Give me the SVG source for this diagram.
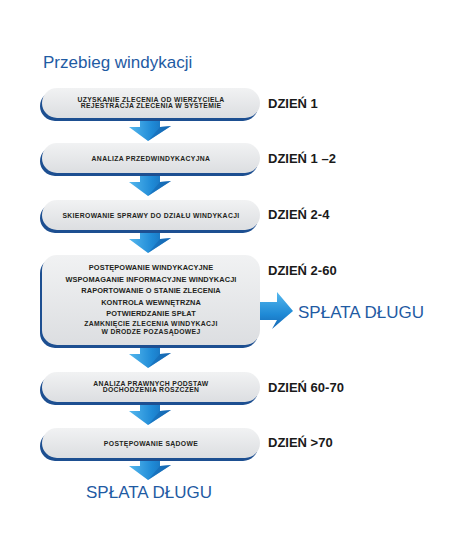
<svg xmlns="http://www.w3.org/2000/svg" width="474" height="553" viewBox="0 0 474 553">
<defs>
<linearGradient id="gBox" x1="0" y1="0" x2="0" y2="1">
<stop offset="0" stop-color="#f1f2f3"/>
<stop offset="1" stop-color="#dcdee1"/>
</linearGradient>
<linearGradient id="gArrow" x1="0" y1="0" x2="1" y2="0">
<stop offset="0" stop-color="#55b8ee"/>
<stop offset="0.55" stop-color="#1f8ad6"/>
<stop offset="1" stop-color="#1566b2"/>
</linearGradient>
<linearGradient id="gArrowR" x1="0" y1="0" x2="0" y2="1">
<stop offset="0" stop-color="#55b8ee"/>
<stop offset="0.6" stop-color="#1f8ad6"/>
<stop offset="1" stop-color="#1566b2"/>
</linearGradient>
<g id="downArrow">
<path d="M-10,0 L10,0 L10,6 L21,5 L-2,20 L-21,6 L-10,6 Z" fill="url(#gArrow)"/>
<path d="M10,6 L21,5 L-2,20 Z" fill="#1466b0" opacity="0.55"/>
</g>
</defs>
<style>
.shadow{fill:#1d4f91}
.box{fill:url(#gBox)}
.bt{font-family:"Liberation Sans",Arial,sans-serif;font-weight:bold;font-size:6.8px;letter-spacing:0.35px;fill:#231f20;text-anchor:middle}
.bt4{font-size:7.4px;letter-spacing:0.1px}
.day{font-family:"Liberation Sans",Arial,sans-serif;font-weight:bold;font-size:13px;fill:#1a1a1a}
.blue{font-family:"Liberation Sans",Arial,sans-serif;fill:#1f5ba3}
</style>
<rect width="474" height="553" fill="#ffffff"/>
<text x="43" y="68" class="blue" font-size="17" fill="#2d67b0">Przebieg windykacji</text>

<g id="connectors">
<use href="#downArrow" transform="translate(150,121)"/>
<use href="#downArrow" transform="translate(150,176)"/>
<use href="#downArrow" transform="translate(150,233)"/>
<use href="#downArrow" transform="translate(150,348)"/>
<use href="#downArrow" transform="translate(150,405)"/>
<use href="#downArrow" transform="translate(150,460)"/>
<path d="M258,302 L277,302 L277,292 L293,311 L272,329 L277,320 L258,320 Z" fill="url(#gArrowR)"/>
</g>

<g id="n1">
<rect class="shadow" x="40" y="91" width="218" height="30" rx="15"/>
<rect class="box" x="42" y="88" width="218" height="30" rx="15"/>
<text class="bt" x="151" y="101.5">UZYSKANIE ZLECENIA OD WIERZYCIELA</text>
<text class="bt" x="151" y="108">REJESTRACJA ZLECENIA W SYSTEMIE</text>
<text class="day" x="268" y="108">DZIEŃ 1</text>
</g>
<g id="n2">
<rect class="shadow" x="40" y="146" width="218" height="30" rx="15"/>
<rect class="box" x="42" y="143" width="218" height="30" rx="15"/>
<text class="bt" x="151" y="161">ANALIZA PRZEDWINDYKACYJNA</text>
<text class="day" x="268" y="163">DZIEŃ 1 –2</text>
</g>
<g id="n3">
<rect class="shadow" x="40" y="203" width="218" height="30" rx="15"/>
<rect class="box" x="42" y="200" width="218" height="30" rx="15"/>
<text class="bt" x="151" y="217.5">SKIEROWANIE SPRAWY DO DZIAŁU WINDYKACJI</text>
<text class="day" x="268" y="219">DZIEŃ 2-4</text>
</g>
<g id="n4">
<rect class="shadow" x="40" y="258" width="218" height="90" rx="15"/>
<rect class="box" x="42" y="255" width="218" height="90" rx="15"/>
<text class="bt bt4" x="151" y="270">POSTĘPOWANIE WINDYKACYJNE</text>
<text class="bt bt4" x="151" y="281.5">WSPOMAGANIE INFORMACYJNE WINDYKACJI</text>
<text class="bt bt4" x="151" y="293">RAPORTOWANIE O STANIE ZLECENIA</text>
<text class="bt bt4" x="151" y="304.5">KONTROLA WEWNĘTRZNA</text>
<text class="bt bt4" x="151" y="316">POTWIERDZANIE SPŁAT</text>
<text class="bt" x="151" y="325.5">ZAMKNIĘCIE ZLECENIA WINDYKACJI</text>
<text class="bt" x="151" y="333.5">W DRODZE POZASĄDOWEJ</text>
<text class="day" x="268" y="275">DZIEŃ 2-60</text>
</g>
<g id="n5">
<rect class="shadow" x="40" y="375" width="218" height="30" rx="15"/>
<rect class="box" x="42" y="372" width="218" height="30" rx="15"/>
<text class="bt" x="151" y="385.5">ANALIZA PRAWNYCH PODSTAW</text>
<text class="bt" x="151" y="392">DOCHODZENIA ROSZCZEN</text>
<text class="day" x="268" y="392">DZIEŃ 60-70</text>
</g>
<g id="n6">
<rect class="shadow" x="40" y="431" width="218" height="30" rx="15"/>
<rect class="box" x="42" y="428" width="218" height="30" rx="15"/>
<text class="bt" x="151" y="445.5">POSTĘPOWANIE SĄDOWE</text>
<text class="day" x="268" y="447">DZIEŃ &gt;70</text>
</g>
<g id="n7">
<text class="blue" x="149" y="498" font-size="17" text-anchor="middle">SPŁATA DŁUGU</text>
</g>
<g id="n8">
<text class="blue" x="298" y="318" font-size="17">SPŁATA DŁUGU</text>
</g>
</svg>
